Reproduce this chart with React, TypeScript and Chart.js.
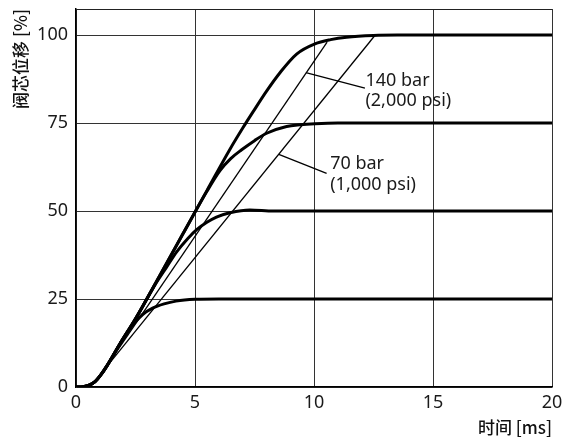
import React, { useEffect, useRef } from 'react';
import { Chart, registerables } from 'chart.js';

Chart.register(...registerables);

// ---- data ----
const xTicks = [0, 5, 10, 15, 20];
const yTicks = [0, 25, 50, 75, 100];

const time25 = [0, 0.3, 0.55, 0.8, 1.05, 1.3, 1.85, 2.05, 2.38, 2.8, 3.22, 3.7, 4.2, 5.0, 6.0, 20];
const disp25 = [0, 0.1, 0.5, 1.5, 3.5, 6, 12.3, 14.3, 17.6, 20.6, 22.4, 23.6, 24.4, 24.9, 25, 25];

const time50 = [0, 0.3, 0.55, 0.8, 1.05, 1.3, 1.85, 2.52, 3.3, 3.8, 4.23, 4.7, 5.07, 5.5, 5.9, 6.47, 7.3, 8.3, 20];
const disp50 = [0, 0.1, 0.5, 1.5, 3.5, 6, 12.3, 19.6, 28.8, 34, 38.4, 42.2, 44.7, 46.8, 48.3, 49.5, 50.3, 50, 50];

const time75 = [0, 0.3, 0.55, 0.8, 1.05, 1.3, 1.85, 2.52, 3.5, 4.5, 5.5, 6.05, 6.5, 6.96, 7.5, 8.01, 8.85, 9.41, 10.04, 11, 20];
const disp75 = [0, 0.1, 0.5, 1.5, 3.5, 6, 12.3, 19.6, 31.4, 43.6, 55.6, 61.5, 64.9, 67.4, 70, 72.1, 74, 74.5, 74.8, 75, 75];

const time100 = [0, 0.3, 0.55, 0.8, 1.05, 1.3, 1.85, 2.52, 3.5, 4.5, 5.5, 6.5, 7.0, 7.45, 8.0, 8.57, 9.27, 10.04, 10.7, 11.37, 12.5, 13.5, 20];
const disp100 = [0, 0.1, 0.5, 1.5, 3.5, 6, 12.3, 19.6, 31.4, 43.6, 55.8, 67.9, 73.5, 78.3, 84, 89.3, 94.6, 97.5, 98.7, 99.4, 99.9, 100, 100];

// thin straight reference lines
const line140X = [0.95, 10.55];
const line140Y = [2.5, 98];
const line70X = [0.9, 12.55];
const line70Y = [2.5, 99.8];

// leader lines to labels
const lead140X = [9.66, 12.14];
const lead140Y = [89.3, 84.9];
const lead70X = [8.52, 10.53];
const lead70Y = [66.1, 60.7];

// label texts with anchor (data coords of left/baseline of each line)
const label140 = ['140 bar', '(2,000 psi)'];
const label140X = 12.16;
const label140Y = [85.5, 79.8];
const label70 = ['70 bar', '(1,000 psi)'];
const label70X = 10.68;
const label70Y = [61.9, 56.0];

const FONT = "'Noto Sans', 'Noto Sans CJK SC', sans-serif";
const CJK = "'Noto Sans CJK SC', 'Noto Sans', sans-serif";

const pts = (xs: number[], ys: number[]) => xs.map((x, i) => ({ x, y: ys[i] }));

const framePlugin = {
  id: 'frameAndLabels',
  beforeDatasetsDraw(chart: any) {
    const { ctx, chartArea } = chart;
    ctx.save();
    ctx.strokeStyle = '#222';
    ctx.lineWidth = 1.2;
    ctx.beginPath();
    ctx.moveTo(chartArea.left, chartArea.top + 0.5);
    ctx.lineTo(chartArea.right, chartArea.top + 0.5);
    ctx.stroke();
    ctx.restore();
  },
  afterDatasetsDraw(chart: any) {
    const { ctx, scales } = chart;
    const xs = scales.x;
    const ys = scales.y;
    ctx.save();
    ctx.fillStyle = '#1a1a1a';
    ctx.font = `18px ${FONT}`;
    ctx.textAlign = 'left';
    ctx.textBaseline = 'alphabetic';
    label140.forEach((t, i) => {
      ctx.fillText(t, xs.getPixelForValue(label140X), ys.getPixelForValue(label140Y[i]));
    });
    label70.forEach((t, i) => {
      ctx.fillText(t, xs.getPixelForValue(label70X), ys.getPixelForValue(label70Y[i]));
    });
    ctx.restore();
  },
};

export default function App() {
  const ref = useRef<HTMLCanvasElement>(null);
  useEffect(() => {
    if (!ref.current) return;
    const thick = (xs: number[], ys: number[]) => ({
      data: pts(xs, ys),
      borderColor: '#000',
      borderWidth: 3,
      pointRadius: 0,
      cubicInterpolationMode: 'monotone' as const,
      fill: false,
    });
    const thin = (xs: number[], ys: number[]) => ({
      data: pts(xs, ys),
      borderColor: '#000',
      borderWidth: 1.3,
      pointRadius: 0,
      tension: 0,
      fill: false,
    });
    const chart = new Chart(ref.current, {
      type: 'line',
      data: {
        datasets: [
          thin(line140X, line140Y),
          thin(line70X, line70Y),
          thin(lead140X, lead140Y),
          thin(lead70X, lead70Y),
          thick(time25, disp25),
          thick(time50, disp50),
          thick(time75, disp75),
          thick(time100, disp100),
        ],
      },
      options: {
        animation: false,
        responsive: false,
        layout: { padding: { left: 0, top: 9, right: 13, bottom: 0 } },
        plugins: { legend: { display: false }, tooltip: { enabled: false } },
        scales: {
          x: {
            type: 'linear',
            min: 0,
            max: 20,
            afterBuildTicks: (s: any) => {
              s.ticks = xTicks.map((v) => ({ value: v }));
            },
            afterFit: (s: any) => {
              s.height = 58;
              s.paddingLeft = 0;
              s.paddingRight = 0;
            },
            grid: { color: '#333', lineWidth: 1, drawTicks: false },
            border: { display: true, color: '#000', width: 1.5 },
            ticks: {
              padding: 5,
              color: '#1a1a1a',
              font: { family: FONT, size: 18 },
              maxRotation: 0,
              autoSkip: false,
            },
            title: {
              display: true,
              text: '时间 [ms]',
              align: 'end',
              color: '#111',
              font: { family: CJK, size: 17, weight: '500' },
              padding: { top: 0, bottom: 7 },
            },
          },
          y: {
            type: 'linear',
            min: 0,
            max: 107.4,
            afterBuildTicks: (s: any) => {
              s.ticks = yTicks.map((v) => ({ value: v }));
            },
            afterFit: (s: any) => {
              s.width = 76;
              s.paddingTop = 0;
              s.paddingBottom = 0;
            },
            grid: { color: '#333', lineWidth: 1, drawTicks: false },
            border: { display: true, color: '#000', width: 1.5 },
            ticks: {
              padding: 8,
              color: '#1a1a1a',
              font: { family: FONT, size: 18 },
              autoSkip: false,
            },
            title: {
              display: true,
              text: '阀芯位移 [%]',
              align: 'end',
              color: '#111',
              font: { family: CJK, size: 17, weight: '500' },
              padding: { top: 10, bottom: 0 },
            },
          },
        },
      },
      plugins: [framePlugin],
    });
    return () => chart.destroy();
  }, []);
  return (
    <div style={{ position: 'absolute', left: 0, top: 0, width: 565, height: 445, background: '#fff' }}>
      <canvas ref={ref} width={565} height={445} style={{ display: 'block' }} />
    </div>
  );
}
